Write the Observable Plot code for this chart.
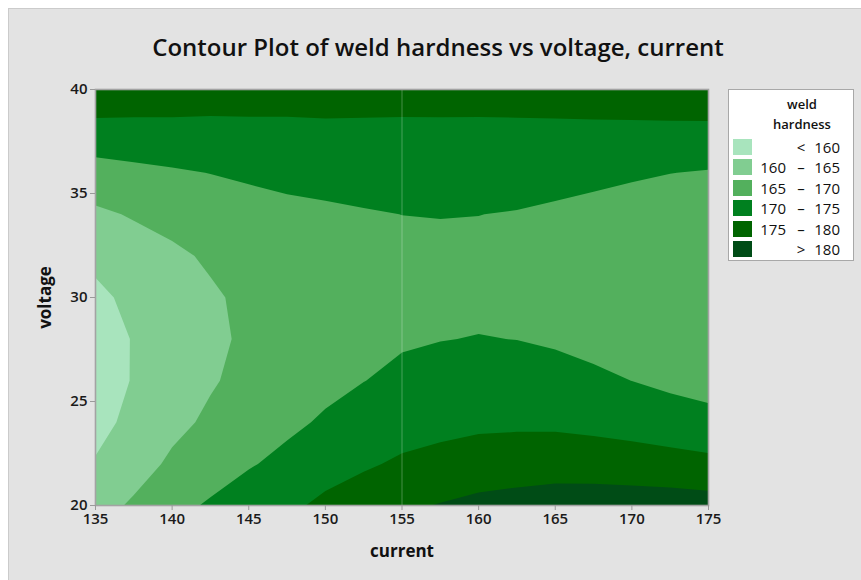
<!DOCTYPE html>
<html>
<head>
<meta charset="utf-8">
<script src="https://cdn.jsdelivr.net/npm/d3@7"></script>
<script src="https://cdn.jsdelivr.net/npm/@observablehq/plot@0.6"></script>
<style>
  html, body { margin: 0; padding: 0; }
  body { width: 861px; height: 580px; position: relative; overflow: hidden; background: #ffffff; font-family: "Open Sans", sans-serif; }
  #panel { position: absolute; left: 8px; top: 8px; width: 853px; height: 572px; background: #e3e3e3; border-left: 1px solid #cbcbcb; border-top: 1px solid #cbcbcb; }
  #chart { position: absolute; left: 0; top: 0; }
  #title { position: absolute; left: 9px; width: 858px; top: 32px; line-height: 30px; text-align: center; font-size: 24px; font-weight: 600; color: #111111; white-space: nowrap; }
  #legend { position: absolute; left: 728px; top: 89px; width: 126px; height: 172px; background: #ffffff; border: 1px solid #a8a8a8; box-sizing: border-box; color: #111111; }
  #legend .lt { position: absolute; left: 0; width: 146px; text-align: center; font-size: 13px; font-weight: 600; line-height: 16px; }
  #legend .sw { position: absolute; left: 4px; width: 19px; height: 16px; }
  #legend .tx { position: absolute; font-size: 15px; line-height: 16px; white-space: nowrap; }
</style>
</head>
<body>
<div id="panel"></div>
<div id="chart"></div>
<div id="title">Contour Plot of weld hardness vs voltage, current</div>
<div id="legend"></div>
<script>
// ---- data ----
const currents = [135, 137.5, 140, 142.5, 145, 147.5, 150, 152.5, 155, 157.5, 160, 162.5, 165, 167.5, 170, 172.5, 175];
const voltages = [20, 22, 24, 26, 28, 30, 32, 34, 36, 38, 40];
// estimated weld hardness, one row per voltage (bottom to top), columns follow `currents`
const hardness = [
  [163.10, 165.68, 168.65, 170.54, 172.39, 173.95, 176.10, 177.69, 179.22, 180.24, 181.25, 181.84, 182.43, 182.56, 182.52, 182.46, 182.06], // 20
  [160.35, 163.00, 165.80, 167.78, 169.63, 171.17, 172.96, 174.38, 175.71, 176.53, 177.28, 177.61, 177.84, 177.64, 177.27, 176.80, 176.20], // 22
  [158.56, 161.20, 163.79, 165.79, 167.59, 169.08, 170.55, 171.80, 172.94, 173.58, 174.10, 174.22, 174.17, 173.72, 173.09, 172.31, 171.57], // 24
  [157.75, 160.28, 162.62, 164.58, 166.28, 167.68, 168.86, 169.94, 170.89, 171.37, 171.71, 171.67, 171.40, 170.78, 169.98, 169.00, 168.18], // 26
  [157.90, 160.24, 162.31, 164.13, 165.70, 166.97, 167.90, 168.80, 169.58, 169.92, 170.10, 169.96, 169.54, 168.83, 167.94, 166.86, 166.01], // 28
  [159.01, 161.08, 162.84, 164.46, 165.85, 166.96, 167.66, 168.39, 168.99, 169.23, 169.29, 169.08, 168.59, 167.87, 166.98, 165.90, 165.09], // 30
  [161.10, 162.80, 164.21, 165.56, 166.72, 167.64, 168.15, 168.70, 169.14, 169.28, 169.27, 169.03, 168.56, 167.90, 167.08, 166.11, 165.40], // 32
  [164.15, 165.41, 166.43, 167.43, 168.32, 169.01, 169.37, 169.74, 170.02, 170.09, 170.03, 169.83, 169.43, 168.91, 168.26, 167.50, 166.94], // 34
  [168.16, 168.89, 169.50, 170.08, 170.65, 171.07, 171.31, 171.49, 171.62, 171.66, 171.59, 171.46, 171.22, 170.91, 170.51, 170.06, 169.72], // 36
  [173.14, 173.26, 173.42, 173.49, 173.70, 173.82, 173.97, 173.98, 173.96, 173.97, 173.93, 173.93, 173.91, 173.89, 173.84, 173.79, 173.73], // 38
  [179.09, 178.50, 178.18, 177.68, 177.48, 177.27, 177.37, 177.18, 177.03, 177.04, 177.07, 177.24, 177.52, 177.87, 178.23, 178.70, 178.98]  // 40
];
const levels = [160, 165, 170, 175, 180];
const bandColors = ["#a8e4bd", "#81cd91", "#53b05d", "#00801f", "#006400", "#004c16"];
const bandLabels = [["", "<", "160"], ["160", "–", "165"], ["165", "–", "170"], ["170", "–", "175"], ["175", "–", "180"], ["", ">", "180"]];
const legendTitle = ["weld", "hardness"];
const xTicks = [135, 140, 145, 150, 155, 160, 165, 170, 175];
const yTicks = [20, 25, 30, 35, 40];
const midLine = [155];

// ---- grid for the contour mark (top row first) ----
const dc = currents[1] - currents[0];
const dv = voltages[1] - voltages[0];
const grid = hardness.slice().reverse().flat();

const chart = Plot.plot({
  width: 861,
  height: 580,
  marginLeft: 95,
  marginRight: 153,
  marginTop: 89,
  marginBottom: 75,
  x: {domain: [currents[0], currents[currents.length - 1]]},
  y: {domain: [voltages[0], voltages[voltages.length - 1]]},
  color: {type: "threshold", domain: levels, range: bandColors},
  style: {background: "transparent", fontFamily: "Open Sans, sans-serif", fontSize: "15px", fontWeight: 600, color: "#1a1a1a", overflow: "visible"},
  marks: [
    Plot.contour(grid, {
      width: currents.length,
      height: voltages.length,
      x1: currents[0] - dc / 2,
      x2: currents[currents.length - 1] + dc / 2,
      y1: voltages[voltages.length - 1] + dv / 2,
      y2: voltages[0] - dv / 2,
      thresholds: [0, ...levels],
      fill: Plot.identity,
      stroke: "none",
      clip: true
    }),
    Plot.ruleX(midLine, {stroke: "#ffffff", strokeOpacity: 0.28, strokeWidth: 1}),
    Plot.frame({stroke: "#a3a3a3", strokeWidth: 1.6}),
    Plot.axisX(xTicks, {tickSize: 5, tickPadding: 3, stroke: "#9a9a9a", fill: "#1a1a1a", label: null}),
    Plot.axisY(yTicks, {tickSize: 5, tickPadding: 3, stroke: "#9a9a9a", fill: "#1a1a1a", label: null}),
    Plot.text(["current"], {text: d => d, frameAnchor: "bottom", lineAnchor: "middle", dy: 46, fontSize: 17, fontWeight: 700, fill: "#111111"}),
    Plot.text(["voltage"], {text: d => d, frameAnchor: "left", textAnchor: "middle", lineAnchor: "middle", rotate: -90, dx: -50, fontSize: 17, fontWeight: 700, fill: "#111111"})
  ]
});
document.getElementById("chart").appendChild(chart);

// ---- legend ----
const leg = document.getElementById("legend");
let html = "";
legendTitle.forEach((t, i) => { html += `<div class="lt" style="top:${6 + i * 20}px">${t}</div>`; });
bandLabels.forEach((l, i) => {
  const top = 49 + i * 20.4;
  html += `<div class="sw" style="top:${top}px;background:${bandColors[i]}"></div>`;
  html += `<div class="tx" style="top:${top}px;right:67px">${l[0]}</div>`;
  html += `<div class="tx" style="top:${top}px;left:62px;width:20px;text-align:center">${l[1]}</div>`;
  html += `<div class="tx" style="top:${top}px;right:13px">${l[2]}</div>`;
});
leg.innerHTML = html;
</script>
</body>
</html>
